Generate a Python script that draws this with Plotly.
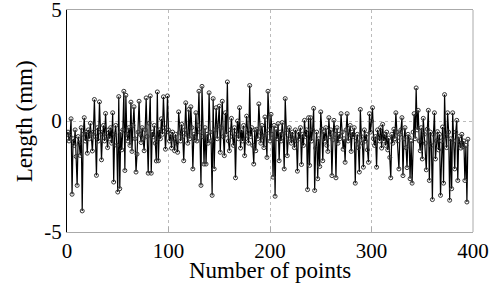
import plotly.graph_objects as go

values = [
    -0.6, -0.5, -0.9, -0.7, 0.1, -3.3, -0.8, -1.1, -0.4, -1.6,
    -2.9, -0.7, -1.0, -1.55, -0.3, -4.05, -0.6, 0.15, -0.9, -0.5,
    -1.45, -0.4, -0.8, -0.1, -0.6, -1.35, -0.5, 0.97, -0.7, -2.45,
    -0.3, -0.9, 0.86, -0.5, -1.75, -0.6, -0.2, -0.9, 0.34, -0.7,
    -1.2, -0.4, -0.8, -0.3, -1.0, 0.37, -2.75, -0.6, -0.2, -1.1,
    -3.2, 1.1, -3.05, -0.5, -1.3, -0.4, 1.34, -2.23, 1.16, -0.6,
    -0.9, -0.3, -1.1, 0.85, -1.37, -0.2, 0.64, -0.8, -2.3, -1.49,
    -0.5, 0.89, -0.6, -0.97, -0.3, -0.8, -1.34, -0.4, 1.04, -0.7,
    -2.35, -0.1, 1.13, -2.35, -0.5, -0.71, -0.2, -1.0, -1.8, 1.31,
    -1.79, -0.4, -0.8, 0.1, -0.6, 1.09, -0.3, -1.27, -0.5, 1.13,
    -0.4, -0.9, -0.6, -1.22, -0.5, -0.8, -1.34, -0.6, -1.0, -1.41,
    0.41, -0.5, -0.9, -0.15, -0.7, -1.79, -0.4, 0.82, -0.6, -1.0,
    0.52, -0.8, 0.64, -0.3, -2.16, -0.6, -0.86, 0.37, -0.9, -0.2,
    1.34, -0.5, -2.9, 1.56, -0.7, -1.94, -0.3, -1.94, -0.6, -1.0,
    1.27, -0.5, -0.9, -3.35, 1.01, -2.16, -0.4, 0.6, -0.8, -0.2,
    0.67, -1.41, -0.3, 0.89, -0.7, -1.56, 0.37, -0.6, 1.76, -0.9,
    -1.34, -0.4, 0.12, -0.7, -1.1, -0.3, -2.56, -0.6, 0.0, -0.8,
    0.6, -1.22, -0.4, -0.9, -0.2, -1.56, -0.8, 0.22, -0.5, -1.0,
    1.6, -0.7, -0.3, -1.1, -1.94, -0.4, -1.34, -0.37, -0.8, 0.77,
    -0.5, -1.0, -0.2, -0.7, -1.2, 0.18, -0.6, -1.64, 1.34, -0.4,
    -0.9, 0.3, -0.6, -2.53, -0.2, -3.39, -0.37, -0.8, -0.12, -1.79,
    -0.5, -0.9, -0.07, -0.6, -2.16, 1.01, -0.4, -1.56, -0.8, -0.3,
    -0.6, -1.0, -0.5, -0.8, -1.2, -0.4, -0.9, -2.26, -0.5, -0.8,
    -0.3, -1.96, -0.6, -1.1, 0.03, -0.7, -0.4, -3.09, 0.15, -2.0,
    0.15, -0.9, -0.4, 0.57, -3.13, -1.22, -0.5, -2.6, -0.8, -2.05,
    0.41, -0.37, -1.79, -0.48, -0.9, -0.3, -1.1, -1.37, 0.15, -0.7,
    -0.4, -2.46, -0.85, 0.03, -0.6, -2.56, -0.3, -1.0, -0.6, -0.8,
    0.33, -0.5, -1.27, -0.8, -1.86, -0.4, 0.33, -0.9, -0.6, -0.2,
    -1.37, -0.5, -0.7, -0.3, -2.8, -0.9, -0.6, -1.2, -2.3, 0.52,
    -0.7, -1.0, -2.08, -0.4, -0.9, -0.6, -1.3, -1.86, 0.33, -0.5,
    0.0, 0.6, -0.8, -1.1, -0.7, -2.08, -0.4, -0.7, -0.9, -0.3,
    -1.22, -0.15, -0.9, -0.6, -1.1, -0.5, -1.3, -0.77, -1.64, -2.56,
    -0.6, -1.0, -0.37, -0.8, 0.37, -0.5, -0.9, -2.16, -0.6, -0.4,
    0.15, -2.46, -0.8, -0.3, -1.2, -2.1, -0.6, -0.74, -2.6, -0.9,
    -2.8, -0.5, 0.33, -0.8, 1.49, -0.4, 0.48, -0.9, -1.34, -0.3,
    -1.71, 0.12, -0.6, -1.0, -2.2, -0.37, 0.48, -2.68, -0.5, -1.1,
    -3.54, -0.6, 0.37, -1.71, -0.9, -0.48, -1.3, -0.6, -3.35, -0.9,
    -0.27, -2.8, 1.19, -0.7, -1.2, 0.37, -0.5, -3.57, -0.8, -3.05,
    0.37, -0.9, -2.16, -0.5, 0.03, -2.68, -0.7, -1.0, -1.22, -0.6,
    -1.16, -0.9, -2.68, -1.1, -3.65, -0.82,
]
points = list(range(len(values)))

x_ticks = [0, 100, 200, 300, 400]
y_ticks = [-5, 0, 5]

FONT = "Liberation Serif"

fig = go.Figure()
fig.add_trace(go.Scatter(
    x=points, y=values, mode="lines+markers",
    line=dict(color="black", width=1.2),
    marker=dict(symbol="circle-open", size=4, color="#333",
                line=dict(width=1, color="#333")),
    showlegend=False,
))

fig.update_layout(
    width=500, height=285,
    margin=dict(l=67, r=27, t=10, b=53, autoexpand=False),
    paper_bgcolor="white", plot_bgcolor="white",
    font=dict(family=FONT, color="black", size=21),
    xaxis=dict(
        range=[0, 400], tickvals=x_ticks, ticktext=[str(v) for v in x_ticks],
        showgrid=True, gridcolor="#bbbbbb", griddash="dot", gridwidth=1,
        showline=True, linecolor="#aaaaaa", linewidth=1, mirror=True,
        ticks="inside", ticklen=5, tickcolor="#aaaaaa", automargin=False,
        zeroline=False, tickfont=dict(size=21), ticklabeloverflow="allow",
    ),
    yaxis=dict(
        range=[-5, 5], tickvals=y_ticks, ticktext=[str(v) for v in y_ticks],
        showgrid=True, gridcolor="#bbbbbb", griddash="dot", gridwidth=1,
        showline=True, linecolor="black", linewidth=1, mirror=False,
        ticks="", zeroline=False, tickfont=dict(size=21), ticklabeloverflow="allow",
        automargin=False,
    ),
    shapes=[dict(type="line", xref="paper", yref="paper", x0=1, x1=1, y0=0, y1=1,
                 line=dict(color="#aaaaaa", width=1))],
    annotations=[
        dict(text="Number of points", xref="paper", yref="paper", x=0.5, y=-0.175,
             xanchor="center", yanchor="middle", showarrow=False, font=dict(size=23)),
        dict(text="Length (mm)", xref="paper", yref="paper", x=-0.105, y=0.5,
             xanchor="center", yanchor="middle", textangle=-90, showarrow=False,
             font=dict(size=23)),
    ],
)

fig.write_html("out.html", config={"displayModeBar": False},
               post_script="document.body.style.margin='0';")
